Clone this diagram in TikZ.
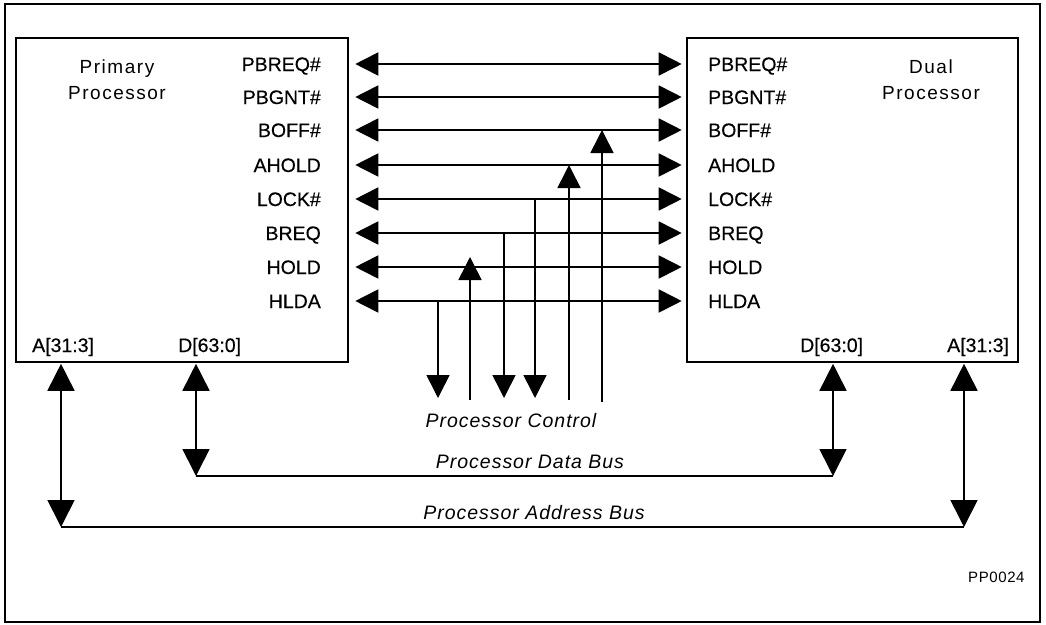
\documentclass[tikz,border=0pt]{standalone}
\usepackage{fontspec}
\setmainfont{Liberation Sans}
\newfontfamily\sigfont[FakeBold=0.4]{Liberation Sans}
\newfontfamily\spacedsans[LetterSpace=8]{Liberation Sans}
\newfontfamily\spacedit[LetterSpace=5]{Liberation Sans}
\newfontfamily\tinyspaced[LetterSpace=4]{Liberation Sans}
\usetikzlibrary{arrows.meta}
\begin{document}
\begin{tikzpicture}[x=1pt,y=-1pt,
  frame/.style={draw,line width=1.3pt},
  chip/.style={draw,line width=2.6pt,inner sep=0pt,minimum height=324pt},
  sig/.style={inner sep=0pt,font=\fontsize{19.5}{22}\selectfont\sigfont,text height=14pt,text depth=0pt},
  chiptitle/.style={inner sep=0pt,align=center,anchor=north,font=\fontsize{19}{26}\selectfont\spacedsans},
  buslbl/.style={inner sep=0pt,font=\fontsize{19.5}{22}\selectfont\spacedit\itshape,text height=14pt,text depth=0pt},
  tip/.style={-{Triangle[length=23pt,width=23pt]}},
  both/.style={{Triangle[length=23pt,width=23pt]}-{Triangle[length=23pt,width=23pt]}},
  bigtips/.style={{Triangle[length=27pt,width=27pt]}-{Triangle[length=27pt,width=27pt]}},
  link/.style={line width=1.8pt},
  ctl/.style={line width=1.6pt},
  busline/.style={line width=1.7pt},
]
\useasboundingbox (0,0) rectangle (1046,624);
\draw[frame] (5,4) rectangle (1040,622);

% chips
\node[chip,minimum width=332pt] (lp) at (182,200) {};
\node[chip,minimum width=331pt] (rp) at (852.5,200) {};

\node[chiptitle] (lt) at (117,60) {Primary\\Processor};
\node[chiptitle] (rt) at (931,60) {Dual\\Processor};

% rows
\coordinate (r1) at (0,64);
\coordinate (r2) at (0,97);
\coordinate (r3) at (0,130);
\coordinate (r4) at (0,165);
\coordinate (r5) at (0,199);
\coordinate (r6) at (0,233);
\coordinate (r7) at (0,267);
\coordinate (r8) at (0,301);

\foreach \r/\t in {1/PBREQ\#,2/PBGNT\#,3/BOFF\#,4/AHOLD,5/LOCK\#,6/BREQ,7/HOLD,8/HLDA}{
  \node[sig,anchor=east] (ls\r) at (321,0 |- r\r) {\t};
  \node[sig,anchor=west] (rs\r) at (708,0 |- r\r) {\t};
  \draw[link,both,shorten <=6pt,shorten >=4pt] (lp.east |- r\r) -- (rp.west |- r\r);
}

% processor control lines
\coordinate (k1) at (438,398);
\coordinate (k2) at (470,400);
\coordinate (k3) at (504,398);
\coordinate (k4) at (535,398);
\coordinate (k5) at (569,400);
\coordinate (k6) at (602,402);
\draw[ctl,tip] (k1 |- r8) -- (k1);
\draw[ctl,tip] (k2) -- (470,257);
\draw[ctl,tip] (k3 |- r6) -- (k3);
\draw[ctl,tip] (k4 |- r5) -- (k4);
\draw[ctl,tip] (k5) -- (k5 |- r4);
\draw[ctl,tip] (k6) -- (k6 |- r3);

\node[buslbl] (pc) at (511,420) {Processor Control};

% bus labels
\node[sig,anchor=west] (la) at (32,345) {A[31:3]};
\node[sig,anchor=west] (ld) at (178,345) {D[63:0]};
\node[sig,anchor=west] (rd) at (800,345) {D[63:0]};
\node[sig,anchor=west] (ra) at (947,345) {A[31:3]};

% data bus
\coordinate (dL) at (196,476);
\coordinate (dR) at (833,476);
\draw[busline,bigtips,shorten <=0.5pt] (lp.south -| dL) -- (dL);
\draw[busline,bigtips,shorten <=0.5pt] (rp.south -| dR) -- (dR);
\draw[busline] (dL) -- (dR);
\node[buslbl] (pd) at (530,461) {Processor Data Bus};

% address bus
\coordinate (aL) at (61,527);
\coordinate (aR) at (964,527);
\draw[busline,bigtips,shorten <=0.5pt] (lp.south -| aL) -- (aL);
\draw[busline,bigtips,shorten <=0.5pt] (rp.south -| aR) -- (aR);
\draw[busline] (aL) -- (aR);
\node[buslbl] (pa) at (534,512) {Processor Address Bus};

\node[inner sep=0pt,anchor=west,font=\fontsize{15}{18}\selectfont\tinyspaced,text height=11pt,text depth=0pt] (id) at (968,577) {PP0024};
\end{tikzpicture}
\end{document}
